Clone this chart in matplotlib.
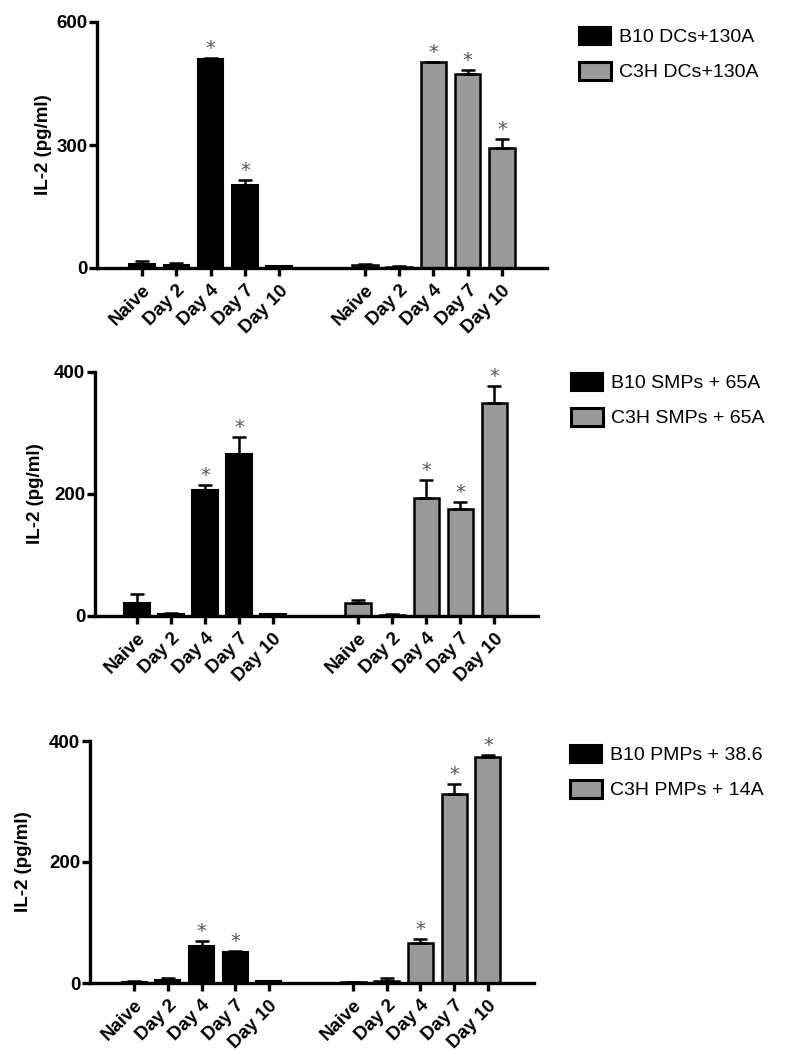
import matplotlib
matplotlib.use("Agg")
import matplotlib.pyplot as plt
from matplotlib.patches import Patch
from matplotlib import font_manager as fm
import numpy as np

# locate regular Liberation Sans (not Narrow) files explicitly
files = fm.findSystemFonts()
reg = [f for f in files if f.endswith("LiberationSans-Regular.ttf")]
bold = [f for f in files if f.endswith("LiberationSans-Bold.ttf")]
fp_reg = fm.FontProperties(fname=reg[0]) if reg else fm.FontProperties(family="DejaVu Sans")
fp_bold = fm.FontProperties(fname=bold[0]) if bold else fm.FontProperties(family="DejaVu Sans", weight="bold")

days = ["Naive", "Day 2", "Day 4", "Day 7", "Day 10"]

# Panel 1
p1_b10 = [10, 8, 510, 202, 5]
p1_b10_err = [8, 3, 1, 12, 1]
p1_c3h = [8, 3, 502, 473, 293]
p1_c3h_err = [2, 1, 1, 10, 22]
p1_sig_b10 = [False, False, True, True, False]
p1_sig_c3h = [False, False, True, True, True]
p1_labels = ["B10 DCs+130A", "C3H DCs+130A"]

# Panel 2
p2_b10 = [21, 4, 206, 265, 3]
p2_b10_err = [15, 1, 9, 28, 1]
p2_c3h = [22, 2, 194, 175, 350]
p2_c3h_err = [5, 0.5, 29, 12, 27]
p2_sig_b10 = [False, False, True, True, False]
p2_sig_c3h = [False, False, True, True, True]
p2_labels = ["B10 SMPs + 65A", "C3H SMPs + 65A"]

# Panel 3
p3_b10 = [2, 5, 61, 51, 3]
p3_b10_err = [1, 3, 8, 2, 1]
p3_c3h = [1, 4, 66, 312, 374]
p3_c3h_err = [0.5, 5, 7, 17, 3]
p3_sig_b10 = [False, False, True, True, False]
p3_sig_c3h = [False, False, True, True, True]
p3_labels = ["B10 PMPs + 38.6", "C3H PMPs + 14A"]

panels = [
    dict(b10=p1_b10, b10e=p1_b10_err, c3h=p1_c3h, c3he=p1_c3h_err, sb=p1_sig_b10, sc=p1_sig_c3h,
         labels=p1_labels, ymax=600, yticks=[0, 300, 600],
         pos=[97/801, 1-268/1050, 450/801, 246/1050], xlim=(-1.31, 11.81),
         leg=(565/801, 1-13/1050), ylab_x=(52-97)/450),
    dict(b10=p2_b10, b10e=p2_b10_err, c3h=p2_c3h, c3he=p2_c3h_err, sb=p2_sig_b10, sc=p2_sig_c3h,
         labels=p2_labels, ymax=400, yticks=[0, 200, 400],
         pos=[95/801, 1-616/1050, 443/801, 244/1050], xlim=(-1.235, 11.79),
         leg=(557/801, 1-359/1050), ylab_x=(44-95)/443),
    dict(b10=p3_b10, b10e=p3_b10_err, c3h=p3_c3h, c3he=p3_c3h_err, sb=p3_sig_b10, sc=p3_sig_c3h,
         labels=p3_labels, ymax=400, yticks=[0, 200, 400],
         pos=[90/801, 1-983/1050, 444/801, 242/1050], xlim=(-1.31, 11.87),
         leg=(556/801, 1-731/1050), ylab_x=(32-90)/444),
]

grey = "#999999"
fig = plt.figure(figsize=(8.01, 10.5), dpi=100)

x1 = np.arange(5)
x2 = np.arange(5) + 6.5
width = 0.74

tick_fp = fp_bold.copy(); tick_fp.set_size(13.5)
ylab_fp = fp_bold.copy(); ylab_fp.set_size(13.5)
leg_fp = fp_reg.copy(); leg_fp.set_size(14)

for p in panels:
    ax = fig.add_axes(p["pos"])
    ax.bar(x1, p["b10"], width=width, color="black", edgecolor="black", linewidth=1.5, zorder=2)
    ax.bar(x2, p["c3h"], width=width, color=grey, edgecolor="black", linewidth=1.8, zorder=2)
    ax.errorbar(x1, p["b10"], yerr=[np.zeros(5), p["b10e"]], fmt="none", ecolor="black",
                elinewidth=1.8, capsize=5, capthick=1.8, zorder=3)
    ax.errorbar(x2, p["c3h"], yerr=[np.zeros(5), p["c3he"]], fmt="none", ecolor="black",
                elinewidth=1.8, capsize=5, capthick=1.8, zorder=3)
    for xs, vals, errs, sig in [(x1, p["b10"], p["b10e"], p["sb"]), (x2, p["c3h"], p["c3he"], p["sc"])]:
        for xi, v, e, s in zip(xs, vals, errs, sig):
            if s:
                ax.annotate("*", (xi, v + e), xytext=(0, 0), textcoords="offset points",
                            ha="center", va="bottom", fontsize=14, color="#555555")
    ax.set_xlim(*p["xlim"])
    ax.set_ylim(0, p["ymax"])
    ax.set_yticks(p["yticks"])
    ax.set_xticks(np.concatenate([x1, x2]))
    ax.set_xticklabels(days + days, rotation=45, ha="right", rotation_mode="anchor",
                       fontproperties=tick_fp)
    ax.set_yticklabels([str(t) for t in p["yticks"]], fontproperties=tick_fp)
    ax.spines["top"].set_visible(False)
    ax.spines["right"].set_visible(False)
    ax.spines["left"].set_linewidth(2.4)
    ax.spines["bottom"].set_linewidth(2.4)
    ax.tick_params(axis="both", direction="out", length=6, width=2.4, pad=1)
    ax.tick_params(axis="x", pad=4)
    ax.set_ylabel("IL-2 (pg/ml)", fontproperties=ylab_fp)
    ax.yaxis.set_label_coords(p["ylab_x"], 0.5)
    handles = [Patch(facecolor="black", edgecolor="black", linewidth=1.5),
               Patch(facecolor=grey, edgecolor="black", linewidth=2.2)]
    fig.legend(handles, p["labels"], loc="upper left", bbox_to_anchor=p["leg"],
               frameon=False, prop=leg_fp, handlelength=1.65, handleheight=1.05,
               handletextpad=0.42, labelspacing=0.8, borderpad=0.2)

fig.savefig("out.png", dpi=100)
